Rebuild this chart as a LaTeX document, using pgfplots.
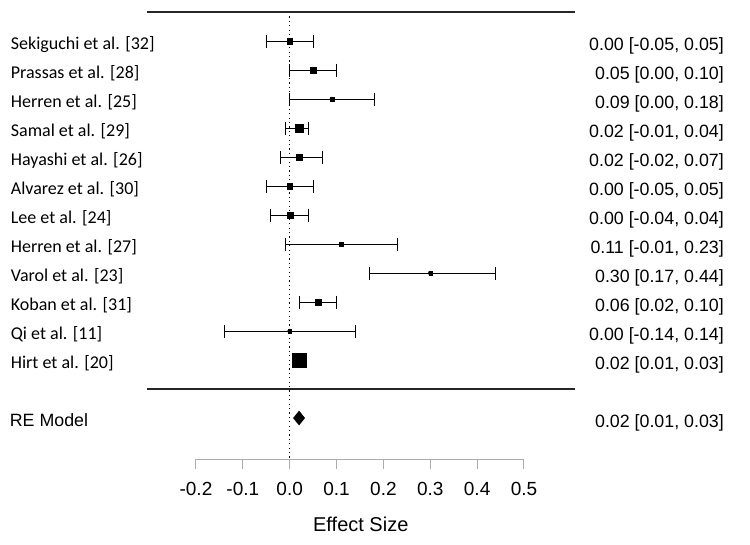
\documentclass[border=0pt]{standalone}
\usepackage{pgfplots}
\pgfplotsset{compat=1.18}
\usepackage{pgfplotstable}
\usepackage{fontspec}
\setmainfont{Liberation Sans}
\newfontfamily\studyfont{Carlito}

% row, estimate, 95% CI, square half-size (pt) reflecting study weight
\pgfplotstableread{
row est lo hi msize
12 0.00 -0.05 0.05 2.6
11 0.05 0.00 0.10 2.6
10 0.09 0.00 0.18 1.8
9 0.02 -0.01 0.04 4.2
8 0.02 -0.02 0.07 2.6
7 0.00 -0.05 0.05 2.6
6 0.00 -0.04 0.04 3.0
5 0.11 -0.01 0.23 1.8
4 0.30 0.17 0.44 1.6
3 0.06 0.02 0.10 3.2
2 0.00 -0.14 0.14 1.6
1 0.02 0.01 0.03 6.6
}\studies

\newcommand{\lefttext}[2]{\node[anchor=base west, inner sep=0pt, yshift=-8pt,
  font=\studyfont\fontsize{18}{20}\selectfont] at (axis cs:-0.5954,#1) {#2};}
\newcommand{\righttext}[2]{\node[anchor=base east, inner sep=0pt, yshift=-9pt,
  font=\fontsize{17.8}{20}\selectfont] at (axis cs:0.9268,#1) {#2};}

\begin{document}
\begin{tikzpicture}
\begin{axis}[
  scale only axis, width=328pt, height=447pt,
  xmin=-0.2, xmax=0.5, ymin=-2.414, ymax=13,
  axis x line*=bottom, axis y line=none,
  clip=false,
  xtick={-0.2,-0.1,0,0.1,0.2,0.3,0.4,0.5},
  tick align=outside, major tick length=10pt,
  axis line style={gray!65, line width=1pt},
  tick style={gray!65, line width=1pt},
  xticklabel style={font=\fontsize{19}{22}\selectfont, text=black, inner sep=0pt,
    anchor=north, yshift=-13pt,
    /pgf/number format/.cd, fixed, fixed zerofill, precision=1, assume math mode=true},
]
% reference line at zero effect
\addplot[black, line width=0.9pt, dash pattern=on 1.2pt off 3.2pt] coordinates {(0,13) (0,-2.414)};

% separators
\draw[black!85, line width=1.3pt] (axis cs:-0.3045,13) -- (axis cs:0.609,13);
\draw[black!85, line width=1.3pt] (axis cs:-0.3045,0) -- (axis cs:0.609,0);

% confidence intervals
\addplot[only marks, mark=none,
  error bars/.cd, x dir=both, x explicit, error mark=|,
  error mark options={black, mark size=6.5pt, line width=1pt},
  error bar style={black, line width=1pt}]
  table[x=est, y=row,
    x error plus expr=\thisrow{hi}-\thisrow{est},
    x error minus expr=\thisrow{est}-\thisrow{lo}] {\studies};

% point estimates, sized by weight
\addplot[scatter, only marks, mark=square*,
  scatter/use mapped color={draw=black, fill=black},
  mark options={line width=0.2pt},
  visualization depends on={\thisrow{msize} \as \perpointmarksize},
  scatter/@pre marker code/.append style={/tikz/mark size=\perpointmarksize pt}]
  table[x=est, y=row] {\studies};

% pooled random-effects estimate
\addplot[fill=black, draw=black, line width=2pt, line join=miter]
  coordinates {(0.01,-1) (0.02,-0.8) (0.03,-1) (0.02,-1.2) (0.01,-1)} -- cycle;

\lefttext{12}{Sekiguchi et al. [32]}
\lefttext{11}{Prassas et al. [28]}
\lefttext{10}{Herren et al. [25]}
\lefttext{9}{Samal et al. [29]}
\lefttext{8}{Hayashi et al. [26]}
\lefttext{7}{Alvarez et al. [30]}
\lefttext{6}{Lee et al. [24]}
\lefttext{5}{Herren et al. [27]}
\lefttext{4}{Varol et al. [23]}
\lefttext{3}{Koban et al. [31]}
\lefttext{2}{Qi et al. [11]}
\lefttext{1}{Hirt et al. [20]}
\node[anchor=base west, inner sep=0pt, yshift=-8pt, font=\fontsize{17.8}{20}\selectfont]
  at (axis cs:-0.5975,-1) {RE Model};

\righttext{12}{0.00 [-0.05, 0.05]}
\righttext{11}{0.05 [0.00, 0.10]}
\righttext{10}{0.09 [0.00, 0.18]}
\righttext{9}{0.02 [-0.01, 0.04]}
\righttext{8}{0.02 [-0.02, 0.07]}
\righttext{7}{0.00 [-0.05, 0.05]}
\righttext{6}{0.00 [-0.04, 0.04]}
\righttext{5}{0.11 [-0.01, 0.23]}
\righttext{4}{0.30 [0.17, 0.44]}
\righttext{3}{0.06 [0.02, 0.10]}
\righttext{2}{0.00 [-0.14, 0.14]}
\righttext{1}{0.02 [0.01, 0.03]}
\righttext{-1}{0.02 [0.01, 0.03]}

\node[anchor=base, inner sep=0pt, font=\fontsize{20}{24}\selectfont]
  at (axis cs:0.1517,-4.897) {Effect Size};

\coordinate (bbsw) at (axis cs:-0.6182,-5.345);
\coordinate (bbne) at (axis cs:0.9823,13.414);
\end{axis}
\pgfresetboundingbox
\path[use as bounding box] (bbsw) rectangle (bbne);
\end{tikzpicture}
\end{document}
